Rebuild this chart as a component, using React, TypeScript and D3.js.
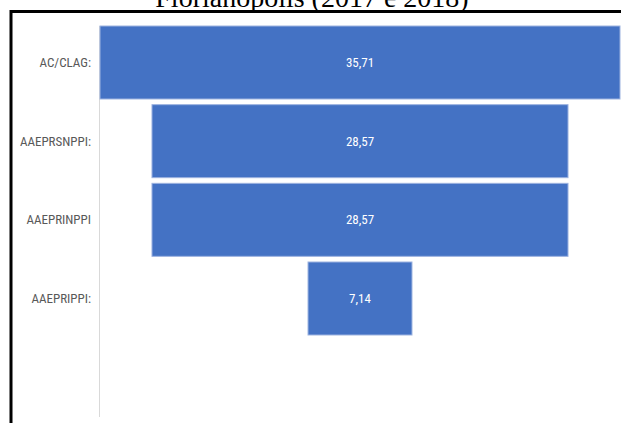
import React from "react";
import * as d3 from "d3";

const categories = ["AC/CLAG:", "AAEPRSNPPI:", "AAEPRINPPI", "AAEPRIPPI:"];
const values = [35.71, 28.57, 28.57, 7.14];
const valueLabels = ["35,71", "28,57", "28,57", "7,14"];
const title = "Florianópolis (2017 e 2018)";

const W = 621;
const H = 423;

export default function App() {
  const axisX = 100;
  const plotRight = 620;
  const center = (axisX + plotRight) / 2;
  const maxV = d3.max(values) as number;
  const w = d3.scaleLinear().domain([0, maxV]).range([0, plotRight - axisX]);
  const y = d3
    .scaleBand<string>()
    .domain(categories)
    .range([26, 335])
    .paddingInner(0.072)
    .paddingOuter(0);

  return (
    <svg
      width={W}
      height={H}
      style={{ position: "absolute", left: 0, top: 0, background: "#fff" }}
    >
      <rect x={0} y={0} width={W} height={H} fill="#fff" />
      <text
        x={312}
        y={7}
        textAnchor="middle"
        fontFamily="'Liberation Serif', 'Times New Roman', serif"
        fontSize={28}
        fill="#000"
      >
        {title}
      </text>
      <rect x={11} y={11.5} width={700} height={500} fill="none" stroke="#000" strokeWidth={3} />
      <line x1={axisX - 0.5} x2={axisX - 0.5} y1={26} y2={417} stroke="#d9d9d9" strokeWidth={1} />
      {categories.map((c, i) => {
        const bw = w(values[i]);
        const by = y(c) as number;
        const bh = y.bandwidth();
        return (
          <g key={c}>
            <rect
              x={center - bw / 2}
              y={by}
              width={bw}
              height={bh}
              fill="#4472C4"
              stroke="#9db3e0"
              strokeWidth={1}
            />
            <text
              x={center}
              y={by + bh / 2}
              dy="0.35em"
              textAnchor="middle"
              fill="#fff"
              fontFamily="'Liberation Sans Narrow', 'Roboto Condensed', 'Liberation Sans', sans-serif"
              fontSize={13}
            >
              {valueLabels[i]}
            </text>
            <text
              x={91}
              y={by + bh / 2}
              dy="0.35em"
              textAnchor="end"
              fill="#595959"
              fontFamily="'Liberation Sans Narrow', 'Roboto Condensed', 'Liberation Sans', sans-serif"
              fontSize={13}
            >
              {c}
            </text>
          </g>
        );
      })}
    </svg>
  );
}
